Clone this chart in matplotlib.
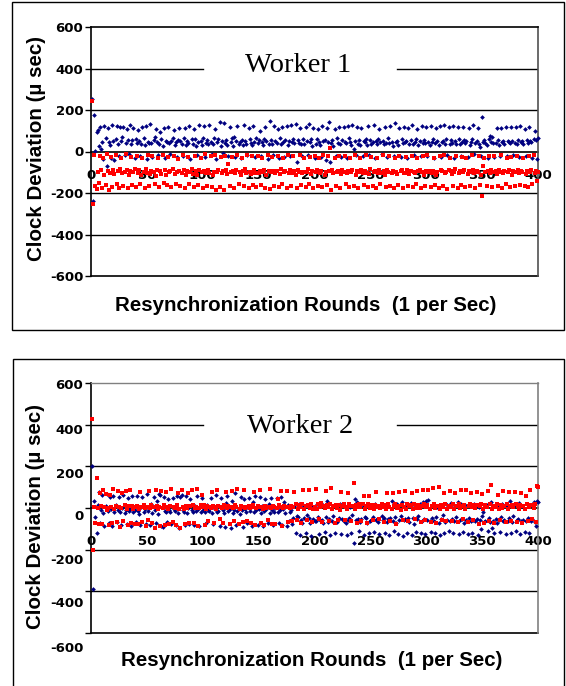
import matplotlib
matplotlib.use("Agg")
import matplotlib.pyplot as plt
import matplotlib.transforms as mtransforms
from matplotlib.patches import Rectangle

W, H = 566, 686

rounds = list(range(1, 401))
y_ticks = [600, 400, 200, 0, -200, -400, -600]
x_ticks = [0, 50, 100, 150, 200, 250, 300, 350, 400]
titles = ["Worker 1", "Worker 2"]
ylabel = "Clock Deviation (\u00b5 sec)"
xlabel = "Resynchronization Rounds  (1 per Sec)"

w1_blue = [
 255, -240, 178, 2, 96, 104, 28, 118, 12, 47, -36, 124, 63, -68, 112, 44, 31, -29, 128, 52,
 -42, 58, 121, 37, -24, 117, 49, 71, 119, -18, 43, 108, 57, -13, 126, 38, 54, 113, -33, 62,
 41, 103, 52, -21, 36, 116, 64, 33, 122, -38, 48, 42, 131, 39, -26, 57, 68, 109, 46, -17,
 34, 92, 61, 27, 111, -31, 53, 44, 117, 39, -14, 51, 66, 104, 32, 46, -27, 56, 112, 49,
 37, -22, 63, 114, 29, 51, 43, 123, -34, 58, 36, 107, 62, 28, -19, 44, 127, 52, 33, 67,
 121, -26, 42, 56, 34, 126, 48, -12, 38, 63, 109, -37, 45, 59, 143, 27, 51, -8, 139, 41,
 57, 32, -23, 118, 44, 64, 26, 72, -28, 52, 124, 37, 46, -32, 56, 31, 129, 53, 38, -16,
 113, 62, 43, 29, 121, 48, -26, 67, 39, 55, 98, -21, 47, 33, 61, 119, 51, -34, 36, 146,
 54, 34, -19, 122, 49, 43, 108, -31, 63, 38, 116, 44, -27, 57, 121, 33, 52, -22, 126, 46,
 61, 39, 131, -52, 56, 42, 111, 34, -24, 62, 37, 118, 49, -18, 134, 44, 58, 27, 114, -33,
 38, 61, 107, 46, 33, -28, 121, 52, 57, -42, 113, 44, 144, -53, 39, 56, 28, 109, -21, 63,
 43, 119, 34, -26, 54, 116, 48, 41, -31, 122, 63, 46, 32, 129, 14, 51, -18, 118, 37, 56,
 33, 114, -24, 52, 46, 62, 29, 121, -19, 57, 38, 44, 127, -32, 49, 34, 61, 108, 47, -14,
 51, 36, 116, 43, -26, 63, 41, 122, 48, 28, -21, 136, 46, 53, 33, 111, -27, 62, 39, 118,
 44, 52, -31, 113, 34, 57, 126, 38, -18, 46, 61, 109, 29, 49, -24, 121, 41, 56, 43, 116,
 -22, 48, 33, 124, 46, 62, -29, 39, 114, 53, 31, 121, -26, 44, 51, 128, 38, 59, -19, 117,
 36, 54, 43, 124, -31, 52, 38, 116, 61, 34, -22, 47, 118, 56, 41, 49, -26, 111, 29, 47,
 62, 126, -14, 41, 49, 112, 36, 24, -21, 166, 44, 54, 39, 31, -33, 62, 76, 48, 71, 43,
 -27, 39, 114, 56, 33, -21, 112, 44, 49, 38, 116, -24, 53, 46, 41, 119, 51, -19, 43, 117,
 38, 56, -26, 121, 44, 49, 36, 109, -22, 54, 41, 116, 52, 44, -31, 61, 99, 57, -36, 64]

w1_red = [
 245, -255, -18, -168, -182, -98, -152, -22, -88, -176, -31, -112, -161, -14, -94, -186, -102, -26, -171, -89,
 -108, -19, -158, -96, -174, -84, -33, -106, -166, -101, -13, -91, -177, -112, -93, -27, -163, -99, -86, -172,
 -21, -102, -89, -157, -113, -29, -97, -176, -83, -104, -17, -164, -107, -92, -24, -99, -158, -117, -88, -32,
 -171, -94, -108, -19, -153, -91, -111, -162, -26, -101, -96, -169, -84, -21, -109, -156, -98, -34, -93, -167,
 -103, -18, -87, -174, -112, -96, -27, -159, -101, -86, -107, -171, -22, -94, -113, -161, -89, -31, -99, -176,
 -94, -14, -106, -166, -88, -102, -24, -172, -111, -97, -19, -186, -98, -91, -173, -28, -104, -93, -184, -21,
 -91, -108, -58, -164, -101, -26, -96, -176, -104, -89, -18, -158, -99, -112, -33, -94, -167, -86, -102, -19,
 -174, -97, -109, -24, -161, -88, -103, -169, -21, -106, -94, -163, -29, -98, -91, -177, -111, -17, -96, -181,
 -99, -27, -92, -166, -104, -93, -21, -171, -108, -84, -159, -31, -101, -96, -174, -18, -106, -89, -164, -102,
 -24, -94, -112, -176, -91, -98, -19, -163, -104, -97, -32, -171, -99, -86, -158, -26, -109, -94, -177, -21,
 -101, -88, -166, -29, -106, -96, -169, -18, -111, -99, -161, -24, -94, 16, -186, -91, -104, -31, -164, -98,
 -96, -21, -176, -109, -89, -101, -24, -159, -106, -93, -171, -32, -99, -91, -166, -19, -112, -94, -174, -101,
 -31, -89, -106, -161, -96, -18, -102, -169, -108, -86, -26, -164, -99, -94, -176, -29, -104, -91, -158, -102,
 -19, -96, -111, -171, -88, -101, -24, -166, -104, -93, -174, -31, -98, -109, -161, -21, -94, -89, -176, -106,
 -102, -26, -91, -164, -109, -94, -21, -171, -99, -106, -159, -29, -96, -88, -174, -101, -24, -112, -166, -93,
 -18, -99, -92, -169, -104, -96, -31, -161, -111, -98, -176, -24, -89, -94, -164, -19, -106, -101, -181, -91,
 -29, -96, -108, -166, -99, -84, -21, -174, -104, -96, -161, -26, -101, -91, -169, -31, -109, -94, -164, -99,
 -19, -91, -106, -174, -94, -99, -24, -161, -111, -214, -71, -29, -101, -166, -96, -21, -104, -89, -171, -99,
 -24, -96, -109, -166, -91, -101, -19, -174, -104, -96, -159, -31, -99, -91, -169, -26, -111, -94, -164, -101,
 -21, -89, -106, -161, -96, -99, -29, -164, -109, -94, -171, -24, -101, -89, -159, -19, -104, -96, -141, -99]

w2_blue = [
 200, -390, 33, -42, -118, 14, 78, -72, -8, 61, -22, -86, 9, 66, -14, -74, 53, -4, -88, 58,
 -19, 16, -69, -12, 54, -17, -82, 2, 64, -23, -9, -77, 48, -16, -3, -87, 56, -21, -11, -68,
 59, -13, -27, -81, 6, 52, -18, -7, -76, 67, -14, -2, -83, 21, -24, 54, -9, -71, 36, -28,
 66, 61, -86, -92, 53, -16, -21, -69, 44, -11, -19, -78, 49, -6, -13, -82, 58, -22, -97, 54,
 62, -9, -17, -84, 56, -23, 1, -76, 43, -12, -18, -81, 11, -14, 59, -4, -87, -21, 48, -8,
 2, -19, -74, 16, -11, -16, 46, -26, -79, 6, -6, 61, -21, -13, -86, 49, 9, -12, -24, -91,
 24, 59, -14, -4, -96, 36, -22, -9, 71, -84, -16, 1, -27, 54, -11, -92, 41, -6, -19, -73,
 46, -13, 3, -86, 29, -21, 56, -8, -81, -4, 51, -26, 8, -89, -16, 44, -3, -74, 19, -22,
 49, -11, -84, -17, 1, 46, -19, -71, -9, 54, -82, -6, 31, -24, -86, 14, -62, -21, -12, -79,
 -48, 11, -122, -38, -41, 21, -128, -56, -71, 14, -49, -119, -35, 9, -46, -74, -136, 4, -54, -62,
 -64, 19, -43, -124, -56, 26, -59, -71, -114, -44, 36, -66, -54, -129, -1, -61, -39, -121, 14, -68,
 -56, -48, 21, -126, -51, -64, 9, -74, -131, -59, -46, 6, -119, -36, -168, 41, -59, 29, -51, -111,
 -66, -54, 16, -129, -41, -49, -72, 11, -121, -64, -56, -41, -116, 19, -59, -51, -69, -124, 4, -37,
 -59, -46, -119, 14, -66, -54, -131, -49, 36, -61, -109, -44, -72, 21, -126, -56, -38, 29, -136, -59,
 -54, 16, -121, -49, -66, 24, -129, -46, -75, 9, -116, -54, -39, 21, -119, -64, 31, -51, -126, 34,
 -56, 39, -61, -114, -49, 16, -64, -121, -44, 4, -71, -129, -54, 14, -36, -119, -66, 19, -56, -109,
 -61, 24, -51, -121, -64, 9, -42, 31, -124, -59, 19, -51, -116, -73, 14, -56, -124, -46, 11, -61,
 -119, -56, 19, -64, -51, -129, 6, -59, -101, -38, -21, -69, -61, 16, -111, -49, -66, 29, -94, -61,
 -121, -54, -71, 14, -59, -116, -44, 21, -64, -56, -124, 11, -61, -49, 36, -119, -66, -40, 16, -109,
 -59, -51, 24, -124, -64, 11, -56, -116, -61, 19, -49, -121, 14, -64, -54, 31, -69, -86, 34, 31]

w2_red = [
 430, -200, 4, -72, 142, -2, -76, 71, 11, -79, 86, 6, 68, -11, 1, -84, 64, 7, -74, 91,
 -3, 12, -69, 81, 4, -91, -1, 74, -64, 13, 84, -4, -81, 8, 86, -71, 11, -6, -76, 3,
 12, -79, -3, 76, 6, -68, 14, -2, -86, 7, -59, 84, 1, 16, -74, 4, -94, 86, 9, -5,
 7, -89, 84, -2, 13, -81, 79, 3, -6, -76, 11, 91, -69, 6, -1, -84, 14, 74, -3, -96,
 86, 4, -4, -79, 12, -1, 74, -71, 8, 89, 13, -74, -2, 6, 91, -86, 1, 14, 64, 3,
 16, -81, -3, 11, -61, 7, 2, 76, 12, -74, 4, -6, 86, 9, -54, 6, -2, -71, 13, 3,
 79, -1, 11, -76, 6, 84, 2, -64, 13, 4, 91, -79, -3, 12, 6, -69, 86, 1, 4, -61,
 11, -2, -74, 7, 14, 76, -81, 1, 9, 6, 89, -71, 4, -3, -84, 12, 2, -59, 6, 91,
 -1, -76, 12, 4, -79, 2, 41, 13, 6, 81, -86, -2, 11, 7, 84, -69, 3, -1, 12, -61,
 6, 79, 18, -56, -4, 16, 4, -71, 21, 86, -7, 9, -59, 13, 89, 2, 19, -66, -3, 7,
 91, -6, 17, -54, 3, 22, -69, 8, -2, 84, 14, 4, -61, 19, 94, -5, 9, -74, 13, 1,
 -59, 16, -8, 79, 11, 21, -56, 4, -3, 74, 17, 8, -64, 12, 121, -6, 14, -71, 3, 19,
 6, -61, 18, 59, -4, 9, -74, 21, 56, 2, 13, -59, -7, 16, 76, 5, 11, -54, -2, 18,
 4, -69, 14, -5, 74, 20, 7, -61, -3, 71, 12, 17, -76, 1, 9, 79, -8, 15, -56, 6,
 84, -4, 19, -64, 8, 13, 71, -6, 21, -54, 2, 81, 14, -2, -69, 10, 89, 17, -59, 3,
 14, 86, -7, -66, 11, 94, 18, 2, -74, 12, 99, -5, 16, -56, 7, 71, 20, -64, -3, 9,
 81, 4, -61, 17, -6, 74, 12, -69, 21, 1, 86, 8, -54, 15, -4, 89, -66, 11, 19, 71,
 6, -59, 16, -2, 76, 13, -79, 9, 20, 66, -5, -71, 14, 3, 81, -64, 18, 111, -3, 12,
 -74, 7, 21, 61, -6, -56, 15, 2, 84, 11, -69, 18, -4, 76, 9, -61, 14, 3, 79, 20,
 -66, 8, -3, 16, 71, -74, 12, -7, 59, 19, -61, 5, 86, 13, -54, -2, 17, -69, 104, 101]

series = [(w1_blue, w1_red), (w2_blue, w2_red)]

BLUE = "#000080"
RED = "#FF0000"
TICKFONT = dict(family="DejaVu Sans", weight="bold", size=9.5)
LABELFONT = dict(family="Liberation Sans", weight="bold", size=14.8)

fig = plt.figure(figsize=(W / 100, H / 100), dpi=100)

def fx(px):
    return px / W

def fy(py):
    return 1 - py / H

panels = [
    dict(box=(12, 2, 564, 330), ax=(91, 27, 538, 276), title_xy=(298, 382),
         ylab=(37, 148.5), xlab=(306, 311), xpad=12.5, frame="black",
         label_shift=[0, 0, 0, 0, 0, 0, 0]),
    dict(box=(13, 359, 564, 720), ax=(91, 383.3, 538, 632.7), title_xy=(300, 363),
         ylab=(35.5, 516.5), xlab=(311.5, 666), xpad=19.5, frame="#808080",
         label_shift=[1, 3.7, 6.7, 7.3, 9.3, 11, 14]),
]

for i, p in enumerate(panels):
    bx0, by0, bx1, by1 = p["box"]
    rect = Rectangle((fx(bx0), fy(by1)), fx(bx1) - fx(bx0), fy(by0) - fy(by1),
                     transform=fig.transFigure, fill=False, edgecolor="black",
                     linewidth=1.0, clip_on=False)
    fig.add_artist(rect)

    ax0, ay0, ax1, ay1 = p["ax"]
    ax = fig.add_axes([fx(ax0), fy(ay1), fx(ax1) - fx(ax0), fy(ay0) - fy(ay1)])
    ax.set_xlim(0, 400)
    ax.set_ylim(-600, 600)
    ax.set_facecolor("white")

    blue, red = series[i]
    ax.plot(rounds, blue, linestyle="none", marker="D", markersize=2.4,
            markeredgewidth=0, color=BLUE, clip_on=False, zorder=3, snap=False)
    ax.plot(rounds, red, linestyle="none", marker="s", markersize=2.6,
            markeredgewidth=0, color=RED, clip_on=False, zorder=3, snap=False)

    for v in [200, -200, -400]:
        ax.axhline(v, color="black", linewidth=1.0, zorder=1)
    ax.axhline(400, xmin=0, xmax=(203 - ax0) / (ax1 - ax0), color="black", linewidth=1.0, zorder=1)
    ax.axhline(400, xmin=(397 - ax0) / (ax1 - ax0), xmax=1, color="black", linewidth=1.0, zorder=1)
    ax.axhline(-600, color="black", linewidth=1.2, clip_on=False, zorder=1)

    ax.spines["bottom"].set_position(("data", 0))
    ax.spines["bottom"].set_linewidth(1.2)
    ax.spines["bottom"].set_zorder(1)
    ax.spines["left"].set_linewidth(1.2)
    ax.spines["top"].set_color(p["frame"])
    ax.spines["top"].set_linewidth(1.0 if i == 1 else 1.2)
    ax.spines["right"].set_color("#505050" if i == 0 else "#808080")
    ax.spines["right"].set_linewidth(1.2)

    ax.set_yticks(y_ticks)
    ax.set_yticklabels([str(v) for v in y_ticks], fontdict=TICKFONT)
    ax.tick_params(axis="y", direction="out", length=4, width=1, pad=1.5)
    for lab, sh in zip(ax.get_yticklabels(), p["label_shift"]):
        lab.set_transform(lab.get_transform() +
                          mtransforms.ScaledTranslation(0, -sh / 100, fig.dpi_scale_trans))

    ax.set_xticks(x_ticks)
    ax.set_xticklabels([str(v) for v in x_ticks], fontdict=TICKFONT)
    ax.tick_params(axis="x", length=0, pad=p["xpad"])
    for lab in ax.get_xticklabels():
        lab.set_zorder(5)

    tx, ty = p["title_xy"]
    ax.text((tx - ax0) / (ax1 - ax0) * 400, ty, titles[i], ha="center", va="baseline",
            family="Liberation Serif", fontsize=20.5, color="black", zorder=4)

    lx, ly = p["ylab"]
    fig.text(fx(lx), fy(ly), ylabel, rotation=90, ha="center", va="center", **LABELFONT)
    xx, xy = p["xlab"]
    fig.text(fx(xx), fy(xy), xlabel, ha="center", va="baseline", **LABELFONT)

fig.savefig("out.png", dpi=100, facecolor="white")
